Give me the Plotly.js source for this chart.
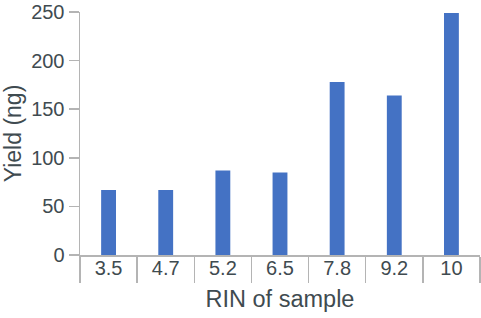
<!DOCTYPE html>
<html>
<head>
<meta charset="utf-8">
<script src="https://cdn.plot.ly/plotly-3.0.1.min.js"></script>
<style>html,body{margin:0;padding:0;background:#fff;}#chart{width:481px;height:318px;}</style>
</head>
<body>
<div id="chart"></div>
<script>
const categories = ["3.5", "4.7", "5.2", "6.5", "7.8", "9.2", "10"];
const yieldValues = [67, 67, 87, 85, 178, 164, 249];
const yTicks = [0, 50, 100, 150, 200, 250];

const textColor = "#3f4b50";
const lineColor = "#b4b4b4";
const font = "Liberation Sans, Arial, sans-serif";

const trace = {
  type: "bar",
  x: categories,
  y: yieldValues,
  marker: {color: "#4472c4"},
  hoverinfo: "x+y"
};

const layout = {
  width: 481,
  height: 318,
  margin: {l: 80, r: 1, t: 12, b: 63},
  paper_bgcolor: "#ffffff",
  plot_bgcolor: "#ffffff",
  bargap: 0.74,
  showlegend: false,
  font: {family: font, color: textColor, size: 20},
  xaxis: {
    type: "category",
    range: [-0.5, 6.5],
    showline: true,
    linecolor: lineColor,
    linewidth: 1.5,
    ticks: "outside",
    tickson: "boundaries",
    ticklen: 26,
    tickwidth: 1.5,
    tickcolor: lineColor,
    ticklabelstandoff: -6,
    tickfont: {family: font, size: 20, color: textColor},
    showgrid: false,
    zeroline: false,
    title: {text: "RIN of sample", font: {family: font, size: 23.5, color: textColor}, standoff: 13}
  },
  yaxis: {
    range: [0, 250],
    tickvals: yTicks,
    ticktext: yTicks.map(String),
    showline: true,
    linecolor: lineColor,
    linewidth: 1.5,
    ticks: "outside",
    ticklen: 10,
    tickwidth: 1.5,
    tickcolor: lineColor,
    tickfont: {family: font, size: 20, color: textColor},
    showgrid: false,
    zeroline: false,
    title: {text: "Yield (ng)", font: {family: font, size: 23, color: textColor}, standoff: 6}
  }
};

Plotly.newPlot("chart", [trace], layout, {staticPlot: true, displayModeBar: false});
</script>
</body>
</html>
